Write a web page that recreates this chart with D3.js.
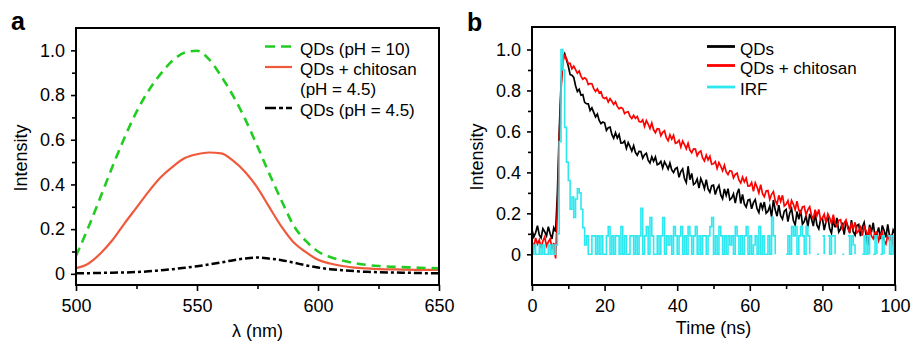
<!DOCTYPE html>
<html>
<head>
<meta charset="utf-8">
<script src="https://cdn.jsdelivr.net/npm/d3@7"></script>
<style>
  body { margin: 0; background: #fff; }
  svg text { font-family: "Liberation Sans", Arial, Helvetica, sans-serif; fill: #000; }
</style>
</head>
<body>
<svg id="chart" width="911" height="343"></svg>
<script>
// Panel a: emission spectra, read every 5 nm
const wavelengths = [500, 505, 510, 515, 520, 525, 530, 535, 540, 545, 550, 555, 560, 565, 570, 575,
  580, 585, 590, 595, 600, 605, 610, 615, 620, 625, 630, 635, 640, 645, 650];
const qdsPh10 = [0.08, 0.205, 0.34, 0.478, 0.608, 0.725, 0.82, 0.895, 0.955, 0.99, 0.998, 0.96, 0.884, 0.795, 0.69, 0.57,
  0.445, 0.326, 0.215, 0.147, 0.10, 0.075, 0.06, 0.048, 0.04, 0.035, 0.032, 0.03, 0.028, 0.026, 0.025];
const qdsChitosan = [0.025, 0.045, 0.09, 0.15, 0.225, 0.296, 0.368, 0.432, 0.48, 0.518, 0.535, 0.543, 0.539, 0.505, 0.455, 0.385,
  0.296, 0.21, 0.14, 0.097, 0.063, 0.046, 0.035, 0.028, 0.024, 0.021, 0.02, 0.019, 0.018, 0.018, 0.018];
const qdsPh45 = [0.003, 0.003, 0.004, 0.005, 0.006, 0.008, 0.011, 0.016, 0.021, 0.027, 0.034, 0.042, 0.051, 0.061, 0.069, 0.073,
  0.068, 0.061, 0.05, 0.038, 0.028, 0.021, 0.016, 0.012, 0.009, 0.007, 0.006, 0.005, 0.004, 0.003, 0.003];

// Panel b: decay traces, one value every 0.5 ns from 0 to 100 ns
const timeStep = 0.5;
const qdsDecay = [
  0.12, 0.085, 0.105, 0.14, 0.095, 0.08, 0.125, 0.11, 0.09, 0.135,
  0.10, 0.075, 0.13, 0.11, 0.30, 0.60, 0.83, 0.96, 0.98, 0.95,
  0.919, 0.878, 0.875, 0.864, 0.823, 0.795, 0.806, 0.777, 0.78, 0.742,
  0.736, 0.735, 0.702, 0.715, 0.693, 0.671, 0.685, 0.654, 0.638, 0.646,
  0.642, 0.605, 0.618, 0.621, 0.585, 0.567, 0.594, 0.568, 0.585, 0.543,
  0.544, 0.553, 0.517, 0.545, 0.526, 0.504, 0.53, 0.497, 0.484, 0.503,
  0.502, 0.469, 0.486, 0.493, 0.46, 0.446, 0.476, 0.454, 0.475, 0.437,
  0.442, 0.454, 0.422, 0.452, 0.436, 0.416, 0.445, 0.412, 0.399, 0.418,
  0.423, 0.376, 0.404, 0.417, 0.37, 0.35, 0.43, 0.364, 0.395, 0.34,
  0.348, 0.368, 0.323, 0.37, 0.348, 0.321, 0.365, 0.319, 0.303, 0.335,
  0.338, 0.292, 0.321, 0.336, 0.29, 0.271, 0.319, 0.288, 0.32, 0.266,
  0.275, 0.295, 0.25, 0.297, 0.32, 0.248, 0.292, 0.246, 0.231, 0.264,
  0.268, 0.222, 0.252, 0.267, 0.222, 0.204, 0.252, 0.222, 0.255, 0.201,
  0.21, 0.235, 0.184, 0.265, 0.217, 0.186, 0.24, 0.188, 0.172, 0.211,
  0.219, 0.16, 0.202, 0.223, 0.165, 0.143, 0.209, 0.171, 0.217, 0.147,
  0.16, 0.19, 0.132, 0.198, 0.172, 0.138, 0.20, 0.142, 0.124, 0.17,
  0.176, 0.118, 0.16, 0.183, 0.125, 0.103, 0.169, 0.132, 0.178, 0.109,
  0.123, 0.154, 0.096, 0.163, 0.138, 0.104, 0.167, 0.11, 0.093, 0.14,
  0.146, 0.089, 0.132, 0.155, 0.098, 0.045, 0.144, 0.107, 0.154, 0.085,
  0.10, 0.131, 0.074, 0.141, 0.116, 0.083, 0.146, 0.089, 0.072, 0.119,
  0.10
];
const chitosanDecay = [
  0.06, 0.035, 0.08, 0.05, 0.07, 0.03, 0.065, 0.085, 0.04, 0.06,
  0.075, 0.03, 0.055, -0.02, 0.22, 0.55, 0.80, 0.94, 0.97, 0.955,
  0.931, 0.932, 0.906, 0.919, 0.902, 0.884, 0.895, 0.869, 0.855, 0.862,
  0.855, 0.829, 0.834, 0.833, 0.809, 0.795, 0.808, 0.789, 0.794, 0.766,
  0.761, 0.766, 0.744, 0.76, 0.747, 0.732, 0.745, 0.722, 0.71, 0.717,
  0.712, 0.687, 0.694, 0.696, 0.674, 0.663, 0.678, 0.664, 0.673, 0.648,
  0.646, 0.657, 0.624, 0.653, 0.636, 0.614, 0.641, 0.608, 0.594, 0.613,
  0.612, 0.579, 0.596, 0.603, 0.57, 0.555, 0.584, 0.562, 0.581, 0.542,
  0.546, 0.557, 0.524, 0.553, 0.536, 0.515, 0.542, 0.509, 0.496, 0.515,
  0.514, 0.481, 0.498, 0.505, 0.471, 0.456, 0.484, 0.461, 0.479, 0.44,
  0.442, 0.453, 0.419, 0.448, 0.43, 0.408, 0.435, 0.402, 0.389, 0.408,
  0.406, 0.373, 0.39, 0.396, 0.363, 0.348, 0.377, 0.354, 0.372, 0.333,
  0.334, 0.351, 0.307, 0.349, 0.328, 0.30, 0.34, 0.296, 0.281, 0.309,
  0.311, 0.267, 0.293, 0.306, 0.263, 0.244, 0.288, 0.258, 0.288, 0.236,
  0.244, 0.262, 0.22, 0.263, 0.244, 0.217, 0.259, 0.216, 0.202, 0.231,
  0.234, 0.192, 0.218, 0.232, 0.19, 0.173, 0.218, 0.189, 0.219, 0.168,
  0.177, 0.196, 0.153, 0.197, 0.178, 0.151, 0.193, 0.151, 0.136, 0.166,
  0.169, 0.127, 0.154, 0.168, 0.126, 0.109, 0.154, 0.125, 0.156, 0.105,
  0.114, 0.133, 0.091, 0.135, 0.116, 0.09, 0.132, 0.09, 0.076, 0.106,
  0.109, 0.067, 0.095, 0.109, 0.067, 0.05, 0.095, 0.066, 0.097, 0.047,
  0.065
];
// null = no counts (gap in the trace)
const irf = [
  0, 0.045, 0, 0, 0.045, 0, 0.045, 0, 0, 0.045,
  0, 0.045, 0, 0.045, 0.1, 0.55, 1.0, 0.9, 0.62, 0.45,
  0.36, 0.22, 0.28, 0.18, 0.27, 0.32, 0.30, 0.22, 0.13, 0.045,
  0.09, 0, 0, 0.09, 0.09, 0, 0.09, 0, 0.09, 0,
  0, 0.09, 0.135, 0, 0.09, 0, 0.09, 0.09, 0, 0.135,
  0, 0.09, 0, 0, 0.09, 0.09, 0, 0.09, 0, 0.09,
  0.225, 0, 0.09, 0.135, 0, 0.18, 0.09, 0, 0, 0.09,
  0, 0.09, 0.18, 0, 0.09, 0.045, 0.09, 0, 0.135, 0.09,
  0, 0.09, 0.135, 0, 0.09, 0, 0.135, 0.09, 0, 0.09,
  0.135, 0, 0.09, 0, 0.09, 0.09, 0, 0.09, 0.135, 0.18,
  0, 0.09, 0, 0.135, 0.09, 0, 0.09, 0, 0.09, 0.045,
  0.09, 0, 0.135, 0.09, 0, 0.09, 0, 0.09, 0.135, 0,
  0.09, 0, 0.045, 0.09, 0, 0.135, 0, 0.09, 0, 0,
  0.09, 0, 0.18, 0.09, 0, null, 0, null, 0, null,
  0, 0.09, 0, 0.135, 0.09, 0.135, 0, 0.09, 0.135, 0.09,
  0, 0.135, 0.09, 0, null, 0, null, 0, 0, null,
  0.09, 0, null, 0.09, 0, 0.09, 0.09, 0, null, 0,
  null, 0, 0, null, 0.09, 0, 0.09, 0.045, 0, null,
  0, null, 0, 0.09, 0, 0.09, 0, null, 0, 0.09,
  0, null, 0, 0.09, 0, null, 0.09, 0, 0.09, 0,
  0.045
];

// Tick values
const yMajor = [0, 0.2, 0.4, 0.6, 0.8, 1.0];
const yMinor = [0.1, 0.3, 0.5, 0.7, 0.9];
const xMajorA = [500, 550, 600, 650];
const xMinorA = [525, 575, 625];
const xMajorB = [0, 20, 40, 60, 80, 100];
const xMinorB = [10, 30, 50, 70, 90];

const svg = d3.select('#chart');
const fontFamily = '"Liberation Sans", Arial, Helvetica, sans-serif';
const yFormat = d => d === 0 ? '0' : d.toFixed(1);

// Scales for both panels
const xA = d3.scaleLinear().domain([500, 650]).range([76, 439]);
const yA = d3.scaleLinear().domain([-0.05, 1.1]).range([285, 28]);
const xB = d3.scaleLinear().domain([0, 100]).range([532, 895]);
const yB = d3.scaleLinear().domain([-0.15, 1.11]).range([285, 27]);

// Clip paths so the traces stay inside the frames
const defs = svg.append('defs');
function addClip(id, x, y) {
  defs.append('clipPath').attr('id', id)
    .append('rect')
    .attr('x', x.range()[0]).attr('y', y.range()[1])
    .attr('width', x.range()[1] - x.range()[0])
    .attr('height', y.range()[0] - y.range()[1]);
}
addClip('clipA', xA, yA);
addClip('clipB', xB, yB);

// Draw axes, minor ticks and the box frame
function drawAxes(x, y, xMajor, xMinor) {
  const [x0, x1] = x.range();
  const [yBottom, yTop] = y.range();

  const xm = svg.append('g').attr('transform', `translate(0,${yBottom})`)
    .call(d3.axisBottom(x).tickValues(xMinor).tickSize(4).tickSizeOuter(0).tickFormat(''));
  const ym = svg.append('g').attr('transform', `translate(${x0},0)`)
    .call(d3.axisLeft(y).tickValues(yMinor).tickSize(4).tickSizeOuter(0).tickFormat(''));

  const xa = svg.append('g').attr('transform', `translate(0,${yBottom})`)
    .call(d3.axisBottom(x).tickValues(xMajor).tickSize(6).tickPadding(8).tickSizeOuter(0));
  const ya = svg.append('g').attr('transform', `translate(${x0},0)`)
    .call(d3.axisLeft(y).tickValues(yMajor).tickSize(5).tickPadding(6).tickSizeOuter(0).tickFormat(yFormat));

  [xm, ym, xa, ya].forEach(g => {
    g.select('.domain').remove();
    g.attr('font-size', 18).attr('font-family', fontFamily);
    g.selectAll('.tick line').attr('stroke', '#000').attr('stroke-width', 1.6);
    g.selectAll('.tick text').attr('fill', '#000');
  });

  svg.append('rect')
    .attr('x', x0).attr('y', yTop)
    .attr('width', x1 - x0).attr('height', yBottom - yTop)
    .attr('fill', 'none').attr('stroke', '#000').attr('stroke-width', 2);
}

// ---------- Panel a ----------
const lineA = d3.line()
  .x((d, i) => xA(wavelengths[i]))
  .y(d => yA(d))
  .curve(d3.curveMonotoneX);

const spectra = [
  { values: qdsPh45, color: '#000', width: 2.5, dash: '8,3,3,3' },
  { values: qdsChitosan, color: '#f05a3c', width: 2.2, dash: null },
  { values: qdsPh10, color: '#22cc22', width: 2.6, dash: '9,6' }
];

const gA = svg.append('g').attr('clip-path', 'url(#clipA)');
spectra.forEach(s => {
  gA.append('path')
    .attr('d', lineA(s.values))
    .attr('fill', 'none')
    .attr('stroke', s.color)
    .attr('stroke-width', s.width)
    .attr('stroke-dasharray', s.dash);
});

drawAxes(xA, yA, xMajorA, xMinorA);

// Legend a
const legendA = [
  { label: ['QDs (pH = 10)'], color: '#22cc22', width: 2.6, dash: '10,6' },
  { label: ['QDs + chitosan', '(pH = 4.5)'], color: '#f05a3c', width: 2.2, dash: null },
  { label: ['QDs (pH = 4.5)'], color: '#000', width: 2.5, dash: '11,3,4,3' }
];
const legendARows = [54.5, 75, 116];
legendA.forEach((d, i) => {
  const yy = legendARows[i];
  svg.append('line')
    .attr('x1', 265).attr('x2', 292)
    .attr('y1', yy - 8).attr('y2', yy - 8)
    .attr('stroke', d.color).attr('stroke-width', d.width)
    .attr('stroke-dasharray', d.dash);
  d.label.forEach((t, j) => {
    svg.append('text')
      .attr('x', 300).attr('y', yy + j * 20)
      .attr('font-size', 17)
      .text(t);
  });
});

// Axis titles a
svg.append('text')
  .attr('x', (xA.range()[0] + xA.range()[1]) / 2).attr('y', 337)
  .attr('text-anchor', 'middle').attr('font-size', 18)
  .text('λ (nm)');
svg.append('text')
  .attr('transform', 'translate(27,158) rotate(-90)')
  .attr('text-anchor', 'middle').attr('font-size', 18)
  .text('Intensity');
svg.append('text')
  .attr('x', 11).attr('y', 30)
  .attr('font-size', 25).attr('font-weight', 'bold')
  .text('a');

// ---------- Panel b ----------
const lineB = d3.line()
  .x((d, i) => xB(i * timeStep))
  .y(d => yB(d));

const lineIrf = d3.line()
  .defined(d => d !== null)
  .x((d, i) => xB(i * timeStep))
  .y(d => yB(d))
  .curve(d3.curveStepAfter);

const gB = svg.append('g').attr('clip-path', 'url(#clipB)');
gB.append('path')
  .attr('d', lineB(qdsDecay))
  .attr('fill', 'none').attr('stroke', '#000').attr('stroke-width', 1.7);
gB.append('path')
  .attr('d', lineB(chitosanDecay))
  .attr('fill', 'none').attr('stroke', '#ff0000').attr('stroke-width', 1.7);
gB.append('path')
  .attr('d', lineIrf(irf))
  .attr('fill', 'none').attr('stroke', '#2ee8f0').attr('stroke-width', 1.6);

drawAxes(xB, yB, xMajorB, xMinorB);

// Legend b
const legendB = [
  { label: 'QDs', color: '#000' },
  { label: 'QDs + chitosan', color: '#ff0000' },
  { label: 'IRF', color: '#2ee8f0' }
];
const legendBRows = [54.5, 73.5, 95];
legendB.forEach((d, i) => {
  const yy = legendBRows[i];
  svg.append('line')
    .attr('x1', 707).attr('x2', 735)
    .attr('y1', yy - 8).attr('y2', yy - 8)
    .attr('stroke', d.color).attr('stroke-width', 2.8);
  svg.append('text')
    .attr('x', 740).attr('y', yy)
    .attr('font-size', 17)
    .text(d.label);
});

// Axis titles b
svg.append('text')
  .attr('x', (xB.range()[0] + xB.range()[1]) / 2).attr('y', 334)
  .attr('text-anchor', 'middle').attr('font-size', 18)
  .text('Time (ns)');
svg.append('text')
  .attr('transform', 'translate(483,157) rotate(-90)')
  .attr('text-anchor', 'middle').attr('font-size', 18)
  .text('Intensity');
svg.append('text')
  .attr('x', 467).attr('y', 31)
  .attr('font-size', 25).attr('font-weight', 'bold')
  .text('b');
</script>
</body>
</html>
